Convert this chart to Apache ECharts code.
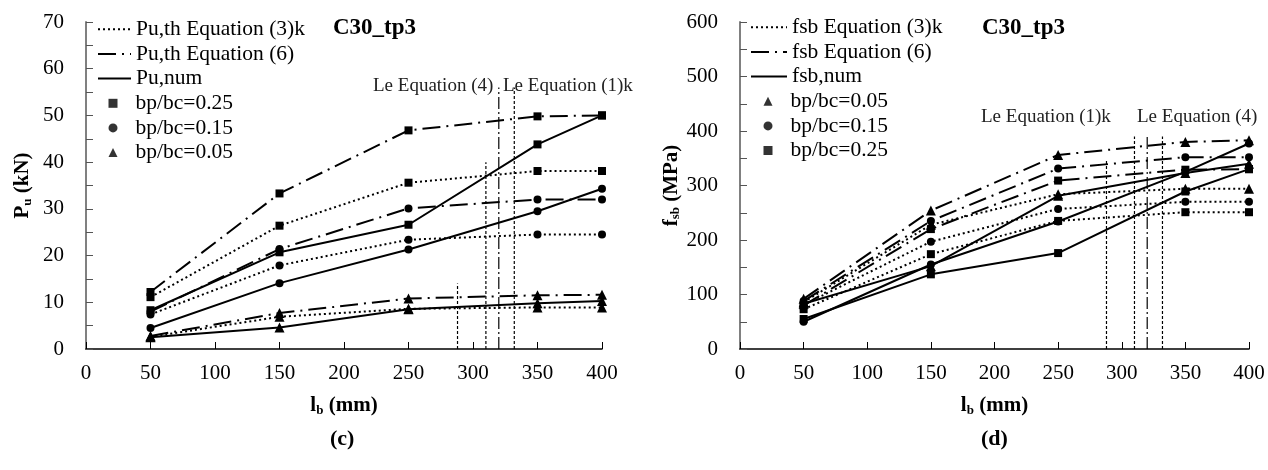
<!DOCTYPE html>
<html><head><meta charset="utf-8">
<script src="https://cdn.jsdelivr.net/npm/echarts@6/dist/echarts.min.js"></script>
<style>html,body{margin:0;padding:0;background:#fff}#c{width:1268px;height:470px}</style>
</head><body><div id="c"></div>
<script>
// ---------- data ----------
const lb = [50, 150, 250, 350, 400];
const xTicks = [0, 50, 100, 150, 200, 250, 300, 350, 400];

// (c) Pu (kN)
const puEq3k_025 = [11.1, 26.4, 35.6, 38.1, 38.1];
const puEq3k_015 = [7.4, 17.9, 23.4, 24.5, 24.5];
const puEq3k_005 = [2.6, 6.9, 8.6, 8.9, 8.9];
const puEq6_025 = [12.2, 33.3, 46.8, 49.8, 50.0];
const puEq6_015 = [8.0, 21.4, 30.1, 32.0, 32.0];
const puEq6_005 = [2.8, 7.7, 10.8, 11.5, 11.6];
const puNum_025 = [8.3, 20.7, 26.6, 43.8, 50.0];
const puNum_015 = [4.5, 14.1, 21.3, 29.5, 34.3];
const puNum_005 = [2.5, 4.6, 8.5, 9.8, 10.3];

// (d) fsb (MPa)
const fsbEq3k_005 = [86, 228, 284, 294, 294];
const fsbEq3k_015 = [81, 197, 257, 270, 270];
const fsbEq3k_025 = [73, 174, 235, 251, 251];
const fsbEq6_005 = [92, 254, 356, 380, 383];
const fsbEq6_015 = [88, 235, 331, 352, 352];
const fsbEq6_025 = [80, 220, 309, 329, 330];
const fsbNum_005 = [83, 152, 281, 323, 340];
const fsbNum_015 = [50, 155, 234, 325, 377];
const fsbNum_025 = [55, 137, 176, 289, 330];

// Le marker lines (x position, top value)
const leX = [288, 310, 320, 332];
const leTopPu = [14, 40, 56, 56];
const leTopFsb = [345, 390, 390, 390];
const leTypes = ['dot', 'dot', 'dashdot', 'dot'];

const FONT = '"Liberation Serif", "DejaVu Serif", serif';
const DOT = [2, 3];
const DASHDOT = [18, 6, 2, 6];

function pts(y) { return lb.map((x, i) => [x, y[i]]); }
function dataSeries(name, y, gi, dash, symbol, size) {
  return {
    name: name, type: 'line', xAxisIndex: gi, yAxisIndex: gi, data: pts(y),
    symbol: symbol, symbolSize: size, showSymbol: true,
    lineStyle: { color: '#000', width: 2, type: dash },
    itemStyle: { color: '#000' }, z: 3, animation: false
  };
}
function leSeries(i, gi, top) {
  return {
    name: 'le' + gi + '_' + i, type: 'line', xAxisIndex: gi, yAxisIndex: gi,
    data: [[leX[i], 0], [leX[i], top[i]]], symbol: 'none', silent: true,
    lineStyle: { color: '#000', width: 1.2, type: leTypes[i] === 'dot' ? [3, 2] : [12, 3, 2, 3] },
    z: 2, animation: false
  };
}
function legendLine(name, gi, dash) {
  return { name: name, type: 'line', xAxisIndex: gi, yAxisIndex: gi, data: [], symbol: 'none',
    itemStyle: { color: '#000', opacity: 0 },
    lineStyle: { color: '#000', width: 2, type: dash } };
}
function legendMark(name, symbol) {
  return { name: name, type: 'scatter', data: [], symbol: symbol, symbolKeepAspect: true, itemStyle: { color: '#000' } };
}

const series = [
  dataSeries('a1', puEq3k_025, 0, DOT, 'rect', 8),
  dataSeries('a2', puEq3k_015, 0, DOT, 'circle', 8),
  dataSeries('a3', puEq3k_005, 0, DOT, 'triangle', 10),
  dataSeries('a4', puEq6_025, 0, DASHDOT, 'rect', 8),
  dataSeries('a5', puEq6_015, 0, DASHDOT, 'circle', 8),
  dataSeries('a6', puEq6_005, 0, DASHDOT, 'triangle', 10),
  dataSeries('a7', puNum_025, 0, 'solid', 'rect', 8),
  dataSeries('a8', puNum_015, 0, 'solid', 'circle', 8),
  dataSeries('a9', puNum_005, 0, 'solid', 'triangle', 10),
  dataSeries('b1', fsbEq3k_005, 1, DOT, 'triangle', 10),
  dataSeries('b2', fsbEq3k_015, 1, DOT, 'circle', 8),
  dataSeries('b3', fsbEq3k_025, 1, DOT, 'rect', 8),
  dataSeries('b4', fsbEq6_005, 1, DASHDOT, 'triangle', 10),
  dataSeries('b5', fsbEq6_015, 1, DASHDOT, 'circle', 8),
  dataSeries('b6', fsbEq6_025, 1, DASHDOT, 'rect', 8),
  dataSeries('b7', fsbNum_005, 1, 'solid', 'triangle', 10),
  dataSeries('b8', fsbNum_015, 1, 'solid', 'circle', 8),
  dataSeries('b9', fsbNum_025, 1, 'solid', 'rect', 8),
  legendLine('Pu,th Equation (3)k', 0, DOT),
  legendLine('Pu,th Equation (6)', 0, DASHDOT),
  legendLine('Pu,num', 0, 'solid'),
  legendLine('fsb Equation (3)k', 1, DOT),
  legendLine('fsb Equation (6)', 1, DASHDOT),
  legendLine('fsb,num', 1, 'solid'),
  legendMark('bp/bc=0.25', 'rect'),
  legendMark('bp/bc=0.15', 'circle'),
  legendMark('bp/bc=0.05', 'triangle')
];
for (let i = 0; i < leX.length; i++) { series.push(leSeries(i, 0, leTopPu)); series.push(leSeries(i, 1, leTopFsb)); }

const rich = {
  b: { fontFamily: FONT, fontSize: 21, fontWeight: 'bold', color: '#000' },
  s: { fontFamily: FONT, fontSize: 13, fontWeight: 'bold', color: '#000', padding: [9, 0, 0, 0] }
};
function xAxis(gi) {
  return {
    gridIndex: gi, type: 'value', min: 0, max: 400, interval: 50,
    axisLine: { show: true, lineStyle: { color: '#000', width: 1.5 } },
    axisTick: { show: true, inside: true, length: 7, lineStyle: { color: '#000', width: 1 } },
    axisLabel: { fontFamily: FONT, fontSize: 21, color: '#000', margin: 14 },
    splitLine: { show: false },
    name: '{b|l}{s|b}{b| (mm)}', nameLocation: 'middle', nameGap: 46,
    nameTextStyle: { rich: rich }
  };
}
function yAxis(gi, max, interval, labelStep, name, gap) {
  return {
    gridIndex: gi, type: 'value', min: 0, max: max, interval: interval,
    axisLine: { show: true, lineStyle: { color: '#808080', width: 2 } },
    axisTick: { show: true, inside: true, length: 7, lineStyle: { color: '#555', width: 1 } },
    axisLabel: { fontFamily: FONT, fontSize: 21, color: '#000', margin: 22,
      formatter: v => (v % labelStep === 0 ? String(v) : '') },
    splitLine: { show: false },
    name: name, nameLocation: 'middle', nameGap: gap,
    nameTextStyle: { rich: rich }
  };
}
const legText = { fontFamily: FONT, fontSize: 21.5, color: '#000', lineHeight: 24.6 };
const legTextPad = { fontFamily: FONT, fontSize: 21.5, color: '#000', lineHeight: 24.6, padding: [0, 0, 0, 13] };
const option = {
  animation: false,
  backgroundColor: '#fff',
  grid: [
    { left: 86, top: 22, width: 516, height: 327 },
    { left: 740, top: 22, width: 509, height: 327 }
  ],
  xAxis: [xAxis(0), xAxis(1)],
  yAxis: [
    yAxis(0, 70, 5, 10, '{b|P}{s|u}{b| (kN)}', 52),
    yAxis(1, 600, 50, 100, '{b|f}{s|sb}{b| (MPa)}', 48)
  ],
  title: [
    { text: 'C30_tp3', left: 333, top: 17, padding: 0, textStyle: { fontFamily: FONT, fontSize: 23, fontWeight: 'bold', color: '#000' } },
    { text: 'C30_tp3', left: 982, top: 17, padding: 0, textStyle: { fontFamily: FONT, fontSize: 23, fontWeight: 'bold', color: '#000' } }
  ],
  legend: [
    { orient: 'vertical', left: 97, top: 17, padding: 0, itemGap: 0, itemWidth: 33, itemHeight: 10,
      itemStyle: { opacity: 0 },
      textStyle: legText, data: ['Pu,th Equation (3)k', 'Pu,th Equation (6)', 'Pu,num'], selectedMode: false },
    { orient: 'vertical', left: 108.5, top: 91, padding: 0, itemGap: 0, itemWidth: 9, itemHeight: 9,
      textStyle: legTextPad, data: ['bp/bc=0.25', 'bp/bc=0.15', 'bp/bc=0.05'], selectedMode: false },
    { orient: 'vertical', left: 750, top: 15, padding: 0, itemGap: 0, itemWidth: 36, itemHeight: 10,
      itemStyle: { opacity: 0 },
      textStyle: legText, data: ['fsb Equation (3)k', 'fsb Equation (6)', 'fsb,num'], selectedMode: false },
    { orient: 'vertical', left: 763.5, top: 89, padding: 0, itemGap: 0, itemWidth: 9, itemHeight: 9,
      textStyle: legTextPad, data: ['bp/bc=0.05', 'bp/bc=0.15', 'bp/bc=0.25'], selectedMode: false }
  ],
  graphic: [
    { type: 'text', left: 373, top: 77, style: { text: 'Le Equation (4)', font: '19px ' + FONT, fill: '#222' } },
    { type: 'text', left: 503, top: 77, style: { text: 'Le Equation (1)k', font: '19px ' + FONT, fill: '#222' } },
    { type: 'text', left: 981, top: 108, style: { text: 'Le Equation (1)k', font: '19px ' + FONT, fill: '#222' } },
    { type: 'text', left: 1137, top: 108, style: { text: 'Le Equation (4)', font: '19px ' + FONT, fill: '#222' } },
    { type: 'text', left: 330, top: 428, style: { text: '(c)', font: 'bold 22px ' + FONT, fill: '#000' } },
    { type: 'text', left: 981, top: 428, style: { text: '(d)', font: 'bold 22px ' + FONT, fill: '#000' } }
  ],
  series: series
};
const chart = echarts.init(document.getElementById('c'), null, { renderer: 'canvas' });
chart.setOption(option);
</script>
</body></html>
